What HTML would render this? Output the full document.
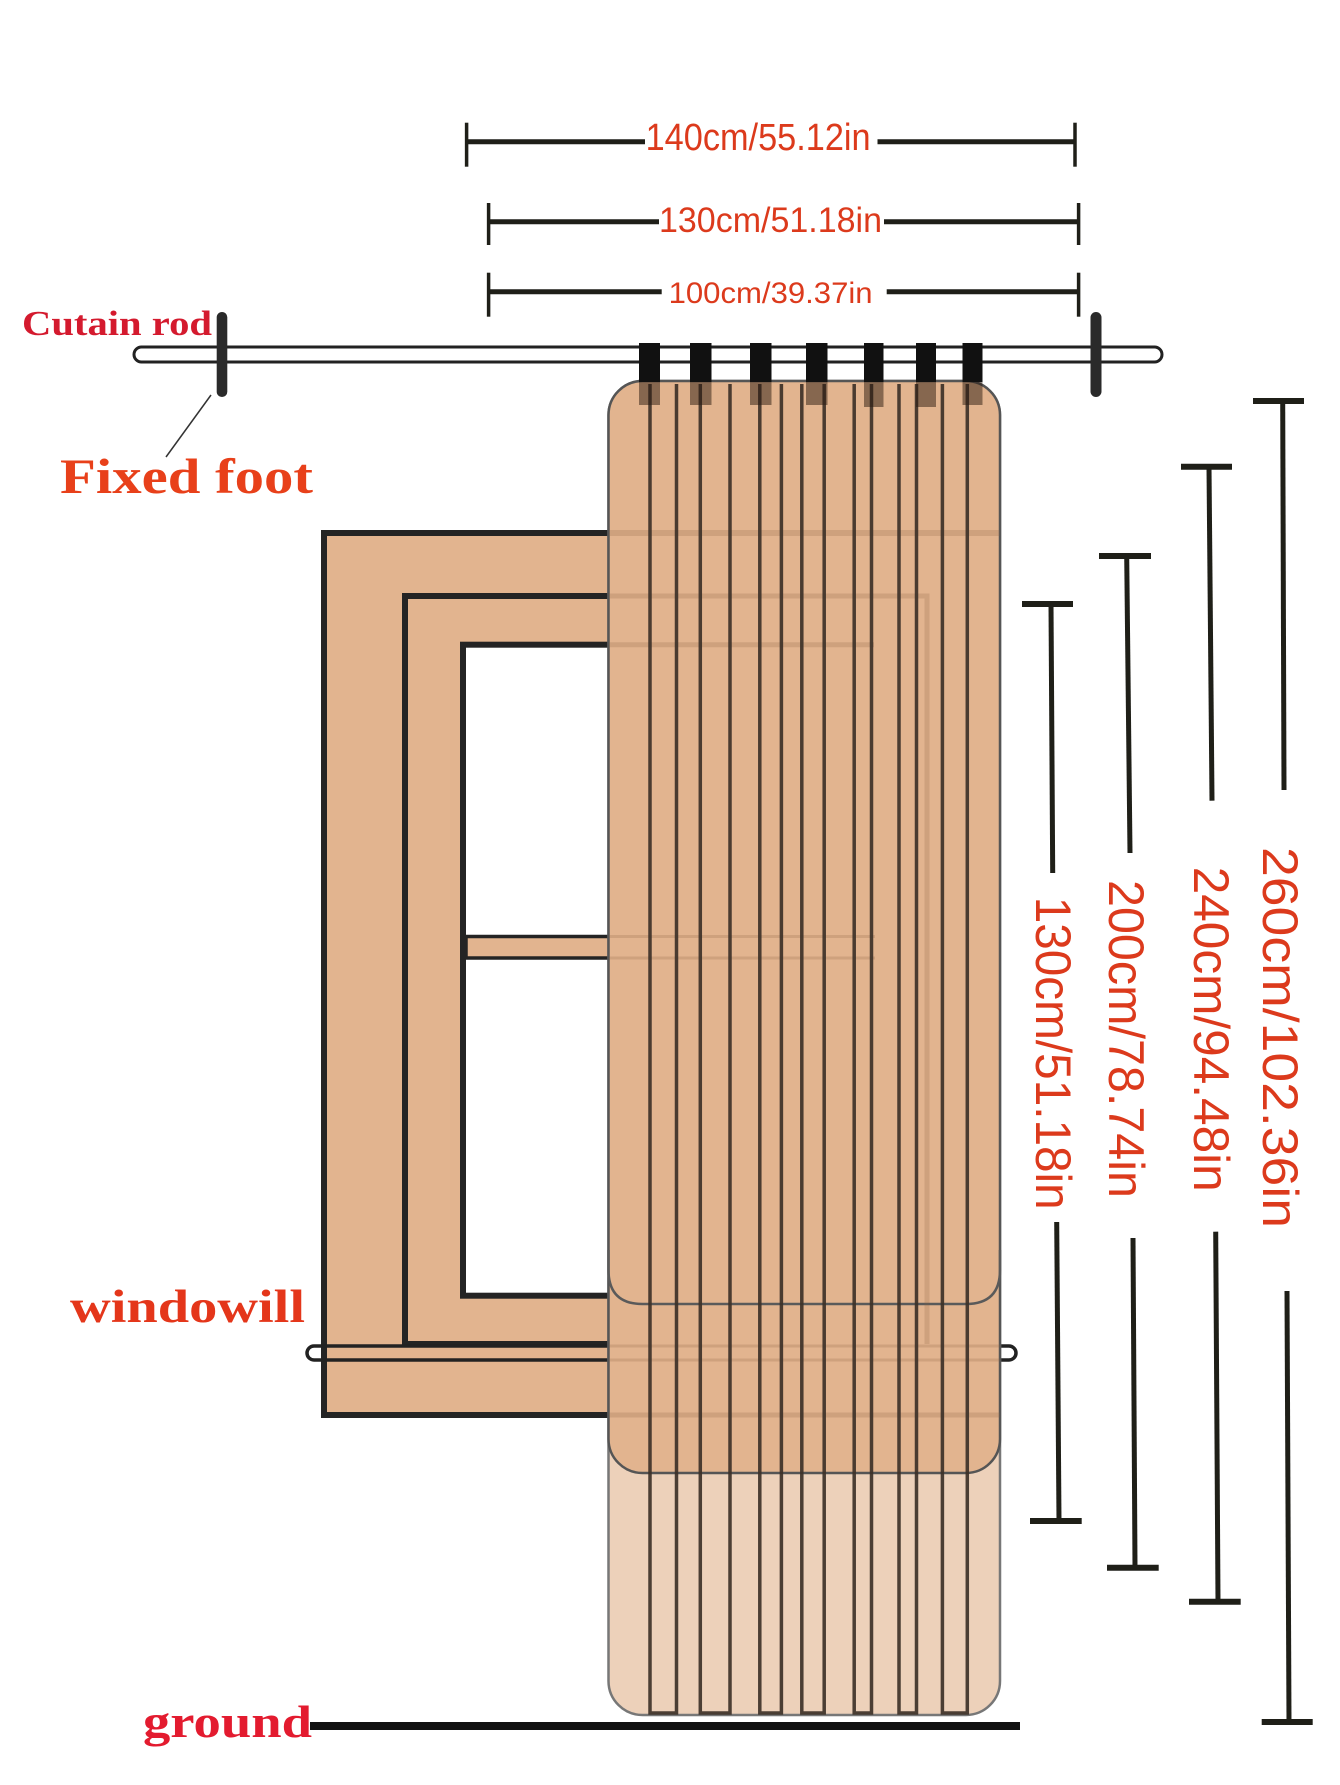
<!DOCTYPE html>
<html>
<head>
<meta charset="utf-8">
<style>
  html,body{margin:0;padding:0;background:#fff;}
  svg{display:block;}
  .dim{font-family:"Liberation Sans",Arial,sans-serif;fill:#DC3A1C;}
  .lbl{font-family:"Liberation Serif","Times New Roman",serif;font-weight:bold;}
</style>
</head>
<body>
<svg width="1340" height="1785" viewBox="0 0 1340 1785" xmlns="http://www.w3.org/2000/svg">
  <rect x="0" y="0" width="1340" height="1785" fill="#ffffff"/>

  <!-- ===== Horizontal dimension lines ===== -->
  <g stroke="#1f1f18" fill="none">
    <line x1="466.6" y1="141.7" x2="645" y2="141.7" stroke-width="5"/>
    <line x1="877.5" y1="141.7" x2="1075" y2="141.7" stroke-width="5"/>
    <line x1="466.6" y1="122.7" x2="466.6" y2="166.7" stroke-width="3.5"/>
    <line x1="1075" y1="122.7" x2="1075" y2="166.7" stroke-width="3.5"/>
    <line x1="488.6" y1="221.7" x2="659" y2="221.7" stroke-width="5"/>
    <line x1="884" y1="221.7" x2="1078.6" y2="221.7" stroke-width="5"/>
    <line x1="488.6" y1="203" x2="488.6" y2="245" stroke-width="3.5"/>
    <line x1="1078.6" y1="203" x2="1078.6" y2="245" stroke-width="3.5"/>
    <line x1="488.6" y1="291.7" x2="661.7" y2="291.7" stroke-width="5"/>
    <line x1="886.7" y1="291.7" x2="1078.6" y2="291.7" stroke-width="5"/>
    <line x1="488.6" y1="272.7" x2="488.6" y2="316.7" stroke-width="3.5"/>
    <line x1="1078.6" y1="272.7" x2="1078.6" y2="316.7" stroke-width="3.5"/>
  </g>
  <text class="dim" x="645.6" y="150" font-size="38" textLength="225" lengthAdjust="spacingAndGlyphs">140cm/55.12in</text>
  <text class="dim" x="659" y="232" font-size="35" textLength="223" lengthAdjust="spacingAndGlyphs">130cm/51.18in</text>
  <text class="dim" x="668.6" y="303" font-size="30" textLength="204" lengthAdjust="spacingAndGlyphs">100cm/39.37in</text>

  <!-- ===== Labels ===== -->
  <text class="lbl" x="22" y="335" font-size="35" fill="#D41A2E" textLength="190" lengthAdjust="spacingAndGlyphs">Cutain rod</text>
  <text class="lbl" x="60" y="493" font-size="50" fill="#E8401A" textLength="253" lengthAdjust="spacingAndGlyphs">Fixed foot</text>
  <text class="lbl" x="70" y="1322" font-size="47" fill="#E4361A" textLength="235" lengthAdjust="spacingAndGlyphs">windowill</text>
  <text class="lbl" x="143" y="1737" font-size="45" fill="#E31B2F" textLength="169" lengthAdjust="spacingAndGlyphs">ground</text>

  <line x1="211" y1="395" x2="166" y2="457" stroke="#333" stroke-width="1.5"/>

  <!-- ===== Curtain rod ===== -->
  <rect x="134" y="347" width="1028" height="15" rx="7.5" ry="7.5" fill="#ffffff" stroke="#222" stroke-width="3"/>
  <rect x="216.7" y="312" width="10.6" height="85" rx="5.3" fill="#2a2a2a"/>
  <rect x="1090.5" y="312" width="11" height="85" rx="5.5" fill="#2a2a2a"/>

  <!-- ===== Window ===== -->
  <rect x="324" y="533" width="650" height="882" fill="#E2B48F" stroke="#242424" stroke-width="6"/>
  <rect x="405" y="596" width="560" height="748" fill="#E2B48F" stroke="#242424" stroke-width="6"/>
  <rect x="463" y="644.7" width="480" height="651" fill="#ffffff" stroke="#242424" stroke-width="6"/>
  <rect x="466" y="936.5" width="150" height="21.5" fill="#E2B48F" stroke="#242424" stroke-width="3.5"/>
  <rect x="307" y="1346" width="709" height="14" rx="7" ry="7" fill="none" stroke="#222" stroke-width="3.5"/>

  <!-- ===== Curtain ===== -->
  <rect x="608.5" y="381" width="391.5" height="1334" rx="34" ry="34" fill="#EDD1BA" stroke="#777" stroke-width="2.5"/>
  <rect x="608.5" y="381" width="391.5" height="1092" rx="34" ry="34" fill="#E2B48F" stroke="#555" stroke-width="2.5"/>
  <path d="M608.5,1250 L608.5,1270 Q608.5,1304 642.5,1304 L966,1304 Q1000,1304 1000,1270 L1000,1250" fill="none" stroke="#5a5a5a" stroke-width="2.5"/>

  <g stroke="#8a5f40" stroke-opacity="0.22" fill="none">
    <line x1="609" y1="533" x2="1000" y2="533" stroke-width="6"/>
    <polyline points="609,596 927,596 927,1344" stroke-width="5"/>
    <polyline points="609,644.7 874,644.7" stroke-width="5"/>
    <line x1="609" y1="936.5" x2="875" y2="936.5" stroke-width="3"/>
    <line x1="609" y1="958" x2="875" y2="958" stroke-width="3"/>
    <line x1="609" y1="1346" x2="1000" y2="1346" stroke-width="3"/>
    <line x1="609" y1="1360" x2="1000" y2="1360" stroke-width="3"/>
    <line x1="609" y1="1415" x2="1000" y2="1415" stroke-width="5"/>
  </g>

  <g stroke="#3d3128" stroke-width="3.5" fill="none" stroke-opacity="0.92">
    <path d="M650,384 L650,1713 L676.5,1713 L676.5,384"/>
    <path d="M700.3,384 L700.3,1713 L730,1713 L730,384"/>
    <path d="M759.8,384 L759.8,1713 L781.4,1713 L781.4,384"/>
    <path d="M801.8,384 L801.8,1713 L824.2,1713 L824.2,384"/>
    <path d="M854.2,384 L854.2,1713 L871.5,1713 L871.5,384"/>
    <path d="M899,384 L899,1713 L916.5,1713 L916.5,384"/>
    <path d="M942.4,384 L942.4,1713 L967.3,1713 L967.3,384"/>
  </g>

  <g fill="#111">
    <rect x="639" y="343" width="21" height="39"/>
    <rect x="690" y="343" width="21.5" height="39"/>
    <rect x="750" y="343" width="21.5" height="39"/>
    <rect x="806" y="343" width="21.5" height="39"/>
    <rect x="864" y="343" width="19.5" height="39"/>
    <rect x="916" y="343" width="20" height="39"/>
    <rect x="962.5" y="343" width="20" height="39"/>
  </g>
  <g fill="#2a1a10" fill-opacity="0.5">
    <rect x="639" y="382" width="21" height="23"/>
    <rect x="690" y="382" width="21.5" height="23"/>
    <rect x="750" y="382" width="21.5" height="23"/>
    <rect x="806" y="382" width="21.5" height="23"/>
    <rect x="864" y="382" width="19.5" height="25"/>
    <rect x="916" y="382" width="20" height="25"/>
    <rect x="962.5" y="382" width="20" height="23"/>
  </g>

  <!-- ===== Ground line ===== -->
  <rect x="310" y="1722" width="710" height="8" fill="#111"/>

  <!-- ===== Vertical dimension lines ===== -->
  <g stroke="#1f1f18" fill="none" stroke-width="5">
    <line x1="1051" y1="604" x2="1052.7" y2="873"/>
    <line x1="1056.7" y1="1222" x2="1059" y2="1521"/>
    <line x1="1126.7" y1="556" x2="1130" y2="853"/>
    <line x1="1133" y1="1238" x2="1135" y2="1567.7"/>
    <line x1="1209" y1="466.7" x2="1212" y2="800.7"/>
    <line x1="1215.7" y1="1231.7" x2="1218" y2="1601.7"/>
    <line x1="1282.7" y1="401" x2="1284" y2="790"/>
    <line x1="1287" y1="1291" x2="1289" y2="1722"/>
  </g>
  <g stroke="#1f1f18" stroke-width="6">
    <line x1="1022" y1="604" x2="1073" y2="604"/>
    <line x1="1030" y1="1521" x2="1081.7" y2="1521"/>
    <line x1="1099" y1="556" x2="1151" y2="556"/>
    <line x1="1107" y1="1567.7" x2="1158.7" y2="1567.7"/>
    <line x1="1181" y1="466.7" x2="1232" y2="466.7"/>
    <line x1="1189" y1="1601.7" x2="1240.7" y2="1601.7"/>
    <line x1="1253" y1="401" x2="1304" y2="401"/>
    <line x1="1261.7" y1="1722" x2="1312.7" y2="1722"/>
  </g>

  <text class="dim" font-size="50" transform="translate(1036,896.7) rotate(90)" x="0" y="0" textLength="313" lengthAdjust="spacingAndGlyphs">130cm/51.18in</text>
  <text class="dim" font-size="50" transform="translate(1109,880) rotate(90)" x="0" y="0" textLength="318" lengthAdjust="spacingAndGlyphs">200cm/78.74in</text>
  <text class="dim" font-size="50" transform="translate(1194,866.7) rotate(90)" x="0" y="0" textLength="325" lengthAdjust="spacingAndGlyphs">240cm/94.48in</text>
  <text class="dim" font-size="50" transform="translate(1263,847) rotate(90)" x="0" y="0" textLength="381" lengthAdjust="spacingAndGlyphs">260cm/102.36in</text>
</svg>
</body>
</html>
